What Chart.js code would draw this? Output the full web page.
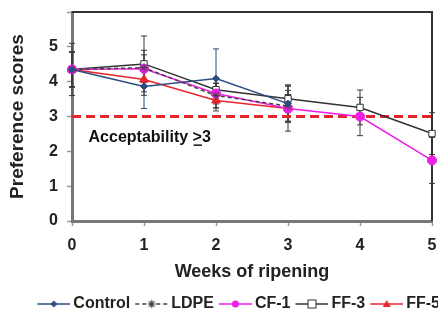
<!DOCTYPE html>
<html lang="en">
<head>
<meta charset="UTF-8">
<script src="https://cdn.jsdelivr.net/npm/chart.js@4.4.0/dist/chart.umd.min.js"></script>
<title>preference scores</title>
<style>
  html, body { margin: 0; padding: 0; background: #fff; }
  #wrap { width: 438px; height: 322px; position: relative; }
</style>
</head>
<body>
<div id="wrap"><canvas id="prefChart"></canvas></div>
<script>
// values
const weeks = [0, 1, 2, 3, 4, 5];
const control = [4.35, 3.86, 4.09, 3.37, null, null];
const ldpe    = [4.35, 4.40, 3.60, 3.30, null, null];
const cf1     = [4.35, 4.37, 3.66, 3.23, 3.00, 1.74];
const ff3     = [4.35, 4.51, 3.77, 3.51, 3.26, 2.51];
const ff5     = [4.35, 4.06, 3.46, 3.23, null, null];
// error bar half-lengths
const controlErr = [0.50, 0.63, 0.85, 0.50, null, null];
const ldpeErr    = [0.50, 0.50, 0.35, 0.45, null, null];
const cf1Err     = [0.50, 0.40, 0.30, 0.40, 0.55, 0.66];
const ff3Err     = [0.75, 0.80, 0.35, 0.40, 0.50, 0.60];
const ff5Err     = [0.50, 0.45, 0.30, 0.65, null, null];
const seriesNames = ['Control', 'LDPE', 'CF-1', 'FF-3', 'FF-5'];
const acceptLimit = 3;

const FONT = "'Liberation Sans', Arial, sans-serif";

function pts(vals) {
  return weeks.map((w, i) => ({ x: w, y: vals[i] }));
}

// little line+marker picture for the legend
function sample(color, dash, style) {
  const c = document.createElement('canvas');
  c.width = 38; c.height = 14;
  const g = c.getContext('2d');
  g.strokeStyle = color; g.fillStyle = color; g.lineWidth = 1.5;
  g.setLineDash(dash);
  g.beginPath(); g.moveTo(5, 7); g.lineTo(38, 7); g.stroke();
  g.setLineDash([]);
  const cx = 21.5, cy = 7;
  g.beginPath();
  if (style === 'rectRot') {
    g.moveTo(cx, cy - 3.5); g.lineTo(cx + 3.5, cy); g.lineTo(cx, cy + 3.5); g.lineTo(cx - 3.5, cy); g.closePath(); g.fill();
  } else if (style === 'star') {
    g.lineWidth = 1.2;
    for (let k = 0; k < 4; k++) {
      const a = k * Math.PI / 4;
      g.moveTo(cx - 4 * Math.cos(a), cy - 4 * Math.sin(a)); g.lineTo(cx + 4 * Math.cos(a), cy + 4 * Math.sin(a));
    }
    g.stroke();
  } else if (style === 'circle') {
    g.arc(cx, cy, 3.5, 0, Math.PI * 2); g.fill();
  } else if (style === 'rect') {
    g.fillStyle = '#fff'; g.fillRect(cx - 4, cy - 4, 8, 8); g.lineWidth = 1; g.strokeRect(cx - 4, cy - 4, 8, 8);
  } else if (style === 'triangle') {
    g.moveTo(cx, cy - 4); g.lineTo(cx + 4, cy + 3); g.lineTo(cx - 4, cy + 3); g.closePath(); g.fill();
  }
  return c;
}

const series = [
  { name: seriesNames[0], vals: control, err: controlErr, color: '#2b4c7e', dash: [], style: 'rectRot', r: 3.5, fill: '#2b4c7e' },
  { name: seriesNames[1], vals: ldpe, err: ldpeErr, color: '#444444', dash: [4, 3], style: 'star', r: 4.5, fill: '#444444' },
  { name: seriesNames[2], vals: cf1, err: cf1Err, color: '#ee1ee6', dash: [], style: 'circle', r: 4.5, fill: '#ee1ee6' },
  { name: seriesNames[3], vals: ff3, err: ff3Err, color: '#333333', dash: [], style: 'rect', r: 4.5, fill: '#ffffff' },
  { name: seriesNames[4], vals: ff5, err: ff5Err, color: '#e8242b', dash: [], style: 'triangle', r: 5, fill: '#e8242b' }
];
const samples = series.map(s => sample(s.color, s.dash, s.style));

const datasets = series.map(s => ({
  label: s.name,
  data: pts(s.vals),
  borderColor: s.color,
  backgroundColor: s.fill,
  borderWidth: 1.5,
  borderDash: s.dash,
  pointStyle: s.style,
  pointRadius: s.r,
  pointBorderColor: s.color,
  pointBackgroundColor: s.fill,
  pointBorderWidth: 1,
  clip: false,
  spanGaps: false
}));
datasets.push({
  label: 'acceptability',
  data: [{ x: weeks[0], y: acceptLimit }, { x: weeks[weeks.length - 1], y: acceptLimit }],
  borderColor: '#e3262b',
  borderWidth: 3,
  borderDash: [9, 5],
  pointRadius: 0,
  clip: false
});

const errorBars = {
  id: 'errorBars',
  beforeDatasetsDraw(chart) {
    const { ctx, scales: { x, y } } = chart;
    ctx.save();
    ctx.lineWidth = 1;
    series.forEach(s => {
      ctx.strokeStyle = s.name === 'Control' ? '#2b4c7e' : '#3a3a3a';
      weeks.forEach((w, i) => {
        if (s.vals[i] == null || s.err[i] == null) return;
        const px = x.getPixelForValue(w);
        const top = y.getPixelForValue(s.vals[i] + s.err[i]);
        const bot = y.getPixelForValue(s.vals[i] - s.err[i]);
        ctx.beginPath();
        ctx.moveTo(px, top); ctx.lineTo(px, bot);
        ctx.moveTo(px - 3, top); ctx.lineTo(px + 3, top);
        ctx.moveTo(px - 3, bot); ctx.lineTo(px + 3, bot);
        ctx.stroke();
      });
    });
    ctx.restore();
  }
};

const frame = {
  id: 'frame',
  beforeDatasetsDraw(chart) {
    const { ctx, chartArea: a } = chart;
    ctx.save();
    ctx.strokeStyle = '#333';
    ctx.lineWidth = 2;
    ctx.beginPath();
    ctx.moveTo(a.left, a.top); ctx.lineTo(a.right, a.top); ctx.lineTo(a.right, a.bottom);
    ctx.stroke();
    ctx.restore();
  }
};

const acceptLabel = {
  id: 'acceptLabel',
  afterDatasetsDraw(chart) {
    const { ctx, scales: { x, y } } = chart;
    const px = x.getPixelForValue(0.23);
    const py = y.getPixelForValue(2.4);
    ctx.save();
    ctx.font = 'bold 16px ' + FONT;
    ctx.fillStyle = '#111';
    ctx.textBaseline = 'middle';
    const head = 'Acceptability ';
    ctx.fillText(head + '>3', px, py);
    const gx = px + ctx.measureText(head).width;
    const gw = ctx.measureText('>').width;
    ctx.fillRect(gx + 1, py + 7, gw - 1, 1.5);
    ctx.restore();
  }
};

// the legend in the figure runs a little past the right edge
const legendShift = {
  id: 'legendShift',
  afterLayout(chart) {
    if (chart.legend) { chart.legend.left += 7; chart.legend.right += 7; }
  }
};

new Chart(document.getElementById('prefChart'), {
  type: 'line',
  data: { datasets },
  options: {
    responsive: true,
    maintainAspectRatio: false,
    animation: false,
    devicePixelRatio: 1,
    layout: { padding: { top: 12, left: 0, right: 0, bottom: 0 } },
    plugins: {
      tooltip: { enabled: false },
      legend: {
        position: 'bottom',
        align: 'end',
        labels: {
          usePointStyle: true,
          pointStyleWidth: 28,
          boxHeight: 14,
          padding: 5,
          color: '#222',
          font: { family: FONT, size: 16, weight: 'bold' },
          generateLabels: () => series.map((s, i) => ({
            text: s.name,
            pointStyle: samples[i],
            datasetIndex: i,
            hidden: false,
            fillStyle: 'transparent',
            strokeStyle: 'transparent',
            lineWidth: 0,
            fontColor: '#222'
          }))
        }
      }
    },
    scales: {
      x: {
        type: 'linear',
        min: 0,
        max: 5,
        ticks: { stepSize: 1, padding: 10, color: '#222', font: { family: FONT, size: 16, weight: 'bold' } },
        grid: { drawOnChartArea: false, tickLength: 5, color: '#999', tickWidth: 1.5 },
        border: { color: '#777', width: 3 },
        title: { display: true, text: 'Weeks of ripening', color: '#222', font: { family: FONT, size: 18, weight: 'bold' }, padding: { top: 4, bottom: 8 } },
        afterFit: s => { s.paddingRight = 4; s.paddingLeft = 0; s.height = 70; }
      },
      y: {
        min: 0,
        max: 6,
        ticks: { stepSize: 1, padding: 9, color: '#222', font: { family: FONT, size: 16, weight: 'bold' },
                 callback: v => (v <= 5 ? v : '') },
        grid: { drawOnChartArea: false, tickLength: 5, color: '#999', tickWidth: 1.5 },
        border: { color: '#777', width: 3 },
        title: { display: true, text: 'Preference scores', color: '#222', font: { family: FONT, size: 19, weight: 'bold' }, padding: { top: 6, bottom: 0 } },
        afterFit: s => { s.width = 72; s.paddingTop = 0; s.paddingBottom = 0; }
      }
    }
  },
  plugins: [errorBars, frame, acceptLabel, legendShift]
});
</script>
</body>
</html>
